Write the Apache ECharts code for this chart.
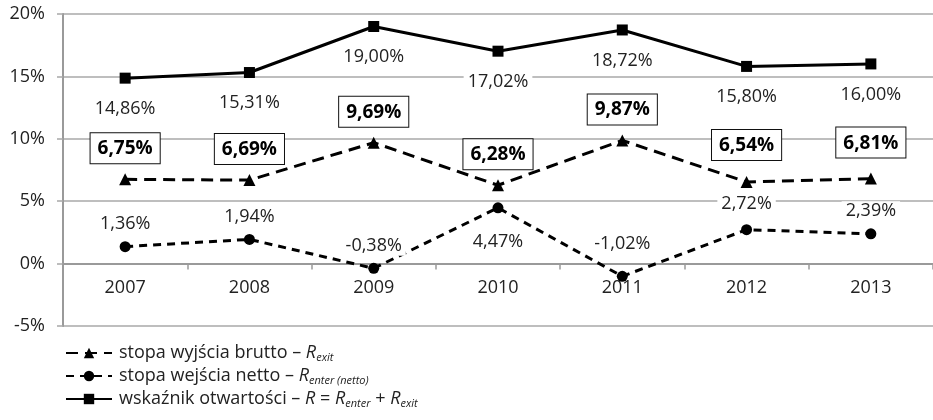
<!DOCTYPE html>
<html>
<head>
<meta charset="utf-8">
<script src="https://cdn.jsdelivr.net/npm/echarts@6/dist/echarts.min.js"></script>
<style>
  html, body { margin: 0; padding: 0; background: #fff; }
  #chart { width: 933px; height: 420px; }
</style>
</head>
<body>
<div id="chart"></div>
<script>
const years = ['2007', '2008', '2009', '2010', '2011', '2012', '2013'];
const exitRate = [6.75, 6.69, 9.69, 6.28, 9.87, 6.54, 6.81];
const enterNet = [1.36, 1.94, -0.38, 4.47, -1.02, 2.72, 2.39];
const openness = [14.86, 15.31, 19.00, 17.02, 18.72, 15.80, 16.00];
const yTicks = { min: -5, max: 20, step: 5 };

const FONT = '"Open Sans", sans-serif';
const fmt = v => v.toFixed(2).replace('.', ',') + '%';

const GRID = { left: 63, top: 14, width: 872, height: 312 };
// the category axis sits on the 0% line
const zeroShift = -GRID.height * (0 - yTicks.min) / (yTicks.max - yTicks.min);

// hand-tuned label placement for a few points that would collide with lines
const enterLabelTweak = {
  '2010': { position: 'bottom', distance: 19 },
  '2011': { offset: [0, -10] },
  '2012': { offset: [0, -3] }
};
const exitLabelTweak = {
  '2012': { offset: [0, -6] },
  '2013': { offset: [0, -5] }
};

const withTweaks = (values, tweaks) => values.map((v, i) =>
  tweaks[years[i]] ? { value: v, label: tweaks[years[i]] } : v);

const chart = echarts.init(document.getElementById('chart'));

const plainLabel = (position, distance) => ({
  show: true,
  position: position,
  distance: distance,
  fontFamily: FONT,
  fontSize: 18,
  color: '#222',
  backgroundColor: '#fff',
  padding: [1, 4],
  formatter: p => fmt(p.value)
});

chart.setOption({
  animation: false,
  textStyle: { fontFamily: FONT },
  grid: Object.assign({ containLabel: false }, GRID),
  xAxis: {
    type: 'category',
    data: years,
    boundaryGap: true,
    offset: zeroShift,
    axisLine: { onZero: false, lineStyle: { color: '#9a9a9a', width: 2 } },
    axisTick: { show: true, length: 6, lineStyle: { color: '#9a9a9a', width: 1.5 } },
    axisLabel: { fontFamily: FONT, fontSize: 18, color: '#222', margin: 15 }
  },
  yAxis: {
    type: 'value',
    min: yTicks.min,
    max: yTicks.max,
    interval: yTicks.step,
    axisLine: { show: true, lineStyle: { color: '#9a9a9a', width: 2 } },
    axisTick: { show: true, length: 6, lineStyle: { color: '#a8a8a8', width: 1.5 } },
    axisLabel: { fontFamily: FONT, fontSize: 18, color: '#222', margin: 18, formatter: '{value}%' },
    splitLine: { show: true, lineStyle: { color: '#a8a8a8', width: 1.5 } }
  },
  legend: {
    orient: 'vertical',
    left: 60,
    top: 338,
    itemGap: 3,
    itemWidth: 46,
    itemHeight: 13,
    data: ['exit', 'enter', 'open'],
    formatter: name => ({
      exit: '{g|}{t|stopa wyjścia brutto – }{i|R}{s|exit}',
      enter: '{g|}{t|stopa wejścia netto – }{i|R}{s|enter (netto)}',
      open: '{g|}{t|wskaźnik otwartości – }{i|R}{t| = }{i|R}{s|enter}{t| + }{i|R}{s|exit}'
    })[name],
    textStyle: {
      color: '#222',
      rich: {
        g: { width: 2 },
        t: { fontFamily: FONT, fontSize: 18, color: '#222', lineHeight: 20 },
        i: { fontFamily: FONT, fontSize: 18, fontStyle: 'italic', color: '#222', lineHeight: 20 },
        s: { fontFamily: FONT, fontSize: 11, fontStyle: 'italic', color: '#222', lineHeight: 20, padding: [9, 0, 0, 0] }
      }
    }
  },
  series: [
    {
      name: 'exit',
      type: 'line',
      data: withTweaks(exitRate, exitLabelTweak),
      symbol: 'triangle',
      symbolSize: 12,
      itemStyle: { color: '#000' },
      lineStyle: { color: '#000', width: 3, type: [12, 7] },
      label: {
        show: true,
        position: 'top',
        distance: 10,
        fontFamily: FONT,
        fontSize: 19,
        fontWeight: 'bold',
        color: '#000',
        backgroundColor: '#fff',
        borderColor: '#111',
        borderWidth: 1,
        padding: [6, 7, 5, 7],
        formatter: p => fmt(p.value)
      },
      z: 3
    },
    {
      name: 'enter',
      type: 'line',
      data: withTweaks(enterNet, enterLabelTweak),
      symbol: 'circle',
      symbolSize: 11,
      itemStyle: { color: '#000' },
      lineStyle: { color: '#000', width: 3, type: [8, 6] },
      label: plainLabel('top', 7),
      z: 2
    },
    {
      name: 'open',
      type: 'line',
      data: openness,
      symbol: 'rect',
      symbolSize: 11,
      itemStyle: { color: '#000' },
      lineStyle: { color: '#000', width: 3 },
      label: plainLabel('bottom', 15),
      z: 2
    }
  ]
});
</script>
</body>
</html>
